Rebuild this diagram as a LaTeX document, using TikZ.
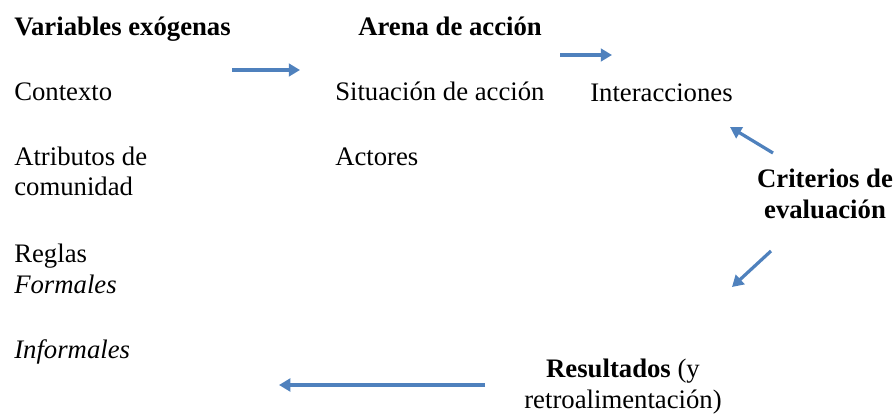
\documentclass[tikz,border=0pt]{standalone}
\usepackage{fontspec}
\setmainfont{Liberation Serif}
\usepackage{xcolor}
\usepackage{tikz}
\usetikzlibrary{arrows.meta}
\definecolor{flecha}{RGB}{79,129,189}
\tikzstyle{txt} = [inner sep=0pt, anchor=base west, font=\fontsize{19}{21.7}\selectfont]
\tikzstyle{bloque} = [txt, align=center, anchor=base]
\tikzstyle{paso} = [draw=flecha, line width=2.3pt, -{Triangle[length=8pt, width=9pt]}]

\begin{document}
\begin{tikzpicture}[x=0.025cm, y=-0.025cm]
\useasboundingbox (0,0) rectangle (896,414);
% columna izquierda
\node[txt] (exo) at (14,35) {\textbf{Variables exógenas}};
\node[txt] (ctx) at (14,100) {Contexto};
\node[txt] (atr) at (14,165) {Atributos de};
\node[txt] (com) at (14,195) {comunidad};
\node[txt] (reg) at (14,262) {Reglas};
\node[txt] (for) at (14,293) {\itshape Formales};
\node[txt] (inf) at (14,358) {\itshape Informales};
% arena
\node[txt] (arena) at (358,35) {\textbf{Arena de acción}};
\node[txt] (sit) at (335,100) {Situación de acción};
\node[txt] (act) at (335,165) {Actores};
\node[txt] (int) at (590,101) {Interacciones};
% evaluacion y resultados
\node[bloque] (crit) at (825,218) {\textbf{Criterios de}\\\textbf{evaluación}};
\node[bloque] (res) at (623,408) {\textbf{Resultados} (y\\retroalimentación)};
% flechas
\coordinate (f1a) at (232,70);  \coordinate (f1b) at (300,70);
\coordinate (f2a) at (560,55);  \coordinate (f2b) at (612,55);
\coordinate (f3a) at (773,153); \coordinate (f3b) at (730,127);
\coordinate (f4a) at (771,251); \coordinate (f4b) at (732,287);
\coordinate (f5a) at (485,385); \coordinate (f5b) at (279,385);
\draw[paso] (f1a) -- (f1b);
\draw[paso] (f2a) -- (f2b);
\draw[paso] (f3a) -- (f3b);
\draw[paso] (f4a) -- (f4b);
\draw[paso] (f5a) -- (f5b);
\end{tikzpicture}
\end{document}
